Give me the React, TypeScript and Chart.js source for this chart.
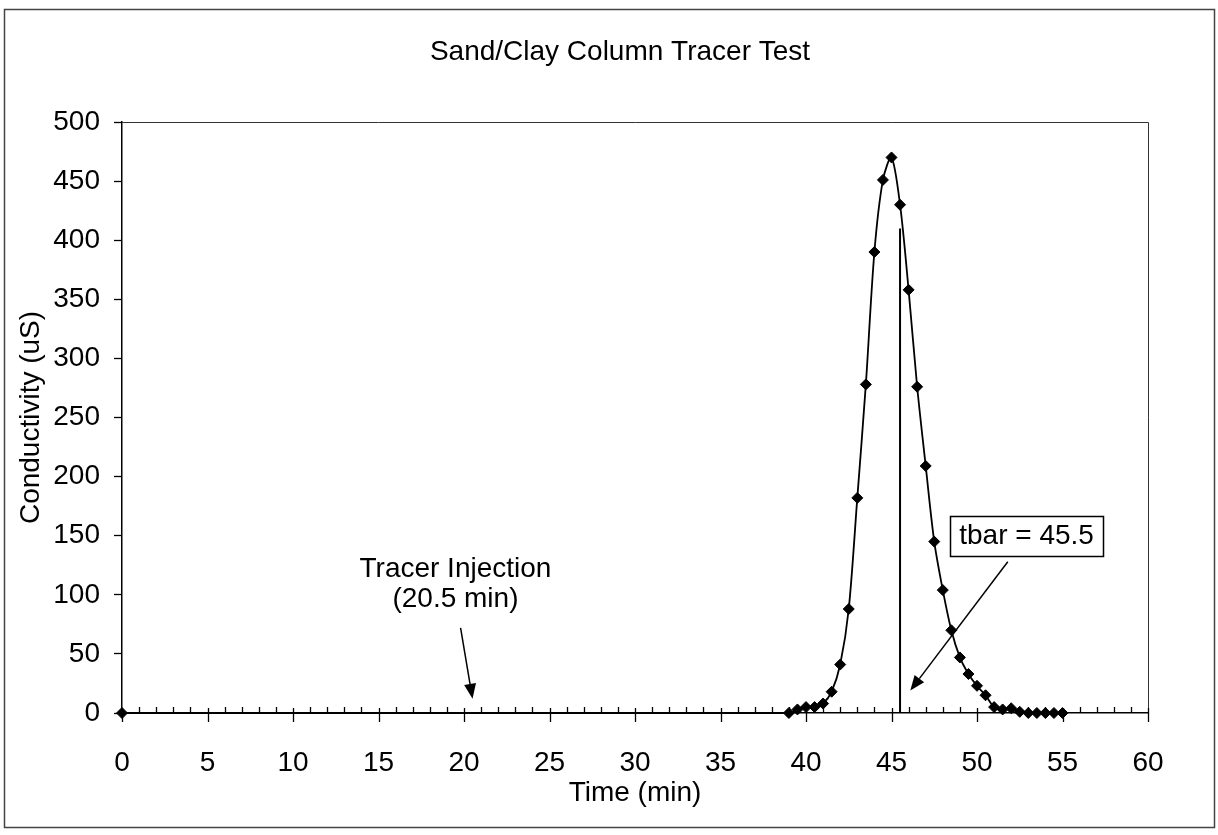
import React, { useEffect, useRef } from "react";
import { Chart, registerables } from "chart.js";

Chart.register(...registerables);

// ---- data ----
const timeMin = [
  0, 39, 39.5, 40, 40.5, 41, 41.5, 42, 42.5, 43, 43.5, 44, 44.5, 45, 45.5, 46,
  46.5, 47, 47.5, 48, 48.5, 49, 49.5, 50, 50.5, 51, 51.5, 52, 52.5, 53, 53.5,
  54, 54.5, 55,
];
const conductivity = [
  0, 0, 3, 5, 5, 8, 18, 41, 88, 182, 278, 390, 451, 470, 430, 358, 276, 209,
  145, 104, 70, 47, 33, 23, 15, 5, 3, 4, 1, 0, 0, 0, 0, 0,
];
const tbarTime = [45.5, 45.5];
const tbarValue = [0, 410];

const chartTitle = "Sand/Clay Column Tracer Test";
const xTitle = "Time (min)";
const yTitle = "Conductivity (uS)";
const injectionText = ["Tracer Injection", "(20.5 min)"];
const tbarText = "tbar = 45.5";

// annotation anchors in data units [time, conductivity]
const injectionTextAt = [19.5, 122];
const injectionTextAt2 = [19.5, 96];
const injectionArrowFrom = [19.8, 72];
const injectionArrowTo = [20.5, 12];
const tbarBoxAt = [52.9, 150];
const tbarArrowFrom = [51.8, 128];
const tbarArrowTo = [46.1, 19];

const FONT_FAMILY = '"Liberation Sans", Arial, Helvetica, sans-serif';

function drawArrow(ctx: CanvasRenderingContext2D, x1: number, y1: number, x2: number, y2: number) {
  const ang = Math.atan2(y2 - y1, x2 - x1);
  const headLen = 15;
  const headHalf = 6;
  const bx = x2 - headLen * Math.cos(ang);
  const by = y2 - headLen * Math.sin(ang);
  ctx.beginPath();
  ctx.moveTo(x1, y1);
  ctx.lineTo(bx, by);
  ctx.stroke();
  ctx.beginPath();
  ctx.moveTo(x2, y2);
  ctx.lineTo(bx + headHalf * Math.sin(ang), by - headHalf * Math.cos(ang));
  ctx.lineTo(bx - headHalf * Math.sin(ang), by + headHalf * Math.cos(ang));
  ctx.closePath();
  ctx.fill();
}

const decorPlugin = {
  id: "decor",
  afterDraw(chart: any) {
    const { ctx, chartArea: ca, scales } = chart;
    const xs = scales.x;
    const ys = scales.y;
    ctx.save();

    // plot area frame (top + right)
    ctx.strokeStyle = "#333";
    ctx.lineWidth = 1;
    ctx.beginPath();
    ctx.moveTo(ca.left, ca.top + 0.5);
    ctx.lineTo(ca.right + 0.5, ca.top + 0.5);
    ctx.lineTo(ca.right + 0.5, ca.bottom);
    ctx.stroke();

    // x axis ticks: major cross the axis, minor point inward
    const y0 = ys.getPixelForValue(0);
    ctx.strokeStyle = "#000";
    ctx.lineWidth = 1.3;
    for (let t = xs.min; t <= xs.max; t += 1) {
      const px = Math.round(xs.getPixelForValue(t)) + 0.5;
      ctx.beginPath();
      if (t % 5 === 0) {
        ctx.moveTo(px, y0 - 5);
        ctx.lineTo(px, y0 + 9);
      } else {
        ctx.moveTo(px, y0 - 6);
        ctx.lineTo(px, y0);
      }
      ctx.stroke();
    }

    // outer chart frame
    ctx.strokeStyle = "#444";
    ctx.lineWidth = 1.5;
    ctx.strokeRect(4.5, 9.5, 1210, 818);

    // title
    ctx.fillStyle = "#000";
    ctx.font = `28px ${FONT_FAMILY}`;
    ctx.textAlign = "center";
    ctx.textBaseline = "middle";
    ctx.fillText(chartTitle, 620, 52);

    // tracer injection annotation
    ctx.fillText(injectionText[0], xs.getPixelForValue(injectionTextAt[0]), ys.getPixelForValue(injectionTextAt[1]));
    ctx.fillText(injectionText[1], xs.getPixelForValue(injectionTextAt2[0]), ys.getPixelForValue(injectionTextAt2[1]));
    ctx.strokeStyle = "#000";
    ctx.lineWidth = 1.5;
    drawArrow(
      ctx,
      xs.getPixelForValue(injectionArrowFrom[0]),
      ys.getPixelForValue(injectionArrowFrom[1]),
      xs.getPixelForValue(injectionArrowTo[0]),
      ys.getPixelForValue(injectionArrowTo[1])
    );

    // tbar box
    const bx = xs.getPixelForValue(tbarBoxAt[0]);
    const by = ys.getPixelForValue(tbarBoxAt[1]);
    const tw = ctx.measureText(tbarText).width;
    const bw = tw + 18;
    const bh = 40;
    ctx.fillStyle = "#fff";
    ctx.fillRect(bx - bw / 2, by - bh / 2, bw, bh);
    ctx.strokeRect(Math.round(bx - bw / 2) + 0.5, Math.round(by - bh / 2) + 0.5, Math.round(bw), bh);
    ctx.fillStyle = "#000";
    ctx.fillText(tbarText, bx, by + 1);
    drawArrow(
      ctx,
      xs.getPixelForValue(tbarArrowFrom[0]),
      ys.getPixelForValue(tbarArrowFrom[1]),
      xs.getPixelForValue(tbarArrowTo[0]),
      ys.getPixelForValue(tbarArrowTo[1])
    );

    ctx.restore();
  },
};

export default function App() {
  const ref = useRef<HTMLCanvasElement | null>(null);

  useEffect(() => {
    if (!ref.current) return;
    const font = { family: FONT_FAMILY, size: 28 };
    const chart = new Chart(ref.current, {
      type: "scatter",
      data: {
        datasets: [
          {
            data: timeMin.map((t, i) => ({ x: t, y: conductivity[i] })),
            showLine: true,
            borderColor: "#000",
            borderWidth: 1.8,
            tension: 0.3,
            pointStyle: "rectRot",
            pointRadius: 5.5,
            pointBackgroundColor: "#000",
            pointBorderColor: "#000",
            pointBorderWidth: 1,
            clip: false,
          } as any,
          {
            data: tbarTime.map((t, i) => ({ x: t, y: tbarValue[i] })),
            showLine: true,
            borderColor: "#000",
            borderWidth: 2,
            tension: 0,
            pointRadius: 0,
            clip: false,
          } as any,
        ],
      },
      options: {
        responsive: false,
        animation: false,
        devicePixelRatio: 1,
        layout: { padding: { top: 122, right: 70, left: 0, bottom: 0 } },
        plugins: {
          legend: { display: false },
          title: { display: false },
          tooltip: { enabled: false },
        },
        scales: {
          x: {
            type: "linear",
            min: 0,
            max: 60,
            ticks: {
              stepSize: 5,
              color: "#000",
              font,
              padding: 33,
              autoSkip: false,
              maxRotation: 0,
            },
            grid: { display: true, drawOnChartArea: false, drawTicks: false },
            border: { display: true, color: "#000", width: 1.5 },
            title: {
              display: true,
              text: xTitle,
              color: "#000",
              font,
              padding: { top: 0, bottom: 25 },
            },
            afterFit: (s: any) => {
              s.height = 122;
            },
          },
          y: {
            type: "linear",
            min: 0,
            max: 500,
            ticks: { stepSize: 50, color: "#000", font, padding: 14 },
            grid: {
              display: true,
              drawOnChartArea: false,
              drawTicks: true,
              tickLength: 8,
              tickColor: "#000",
              tickWidth: 1.3,
            },
            border: { display: true, color: "#000", width: 1.5 },
            title: {
              display: true,
              text: yTitle,
              color: "#000",
              font,
              padding: { top: 14, bottom: 0 },
            },
            afterFit: (s: any) => {
              s.width = 122;
            },
          },
        },
      } as any,
      plugins: [decorPlugin],
    });
    return () => chart.destroy();
  }, []);

  return (
    <div style={{ position: "absolute", left: 0, top: 0, width: 1218, height: 835, background: "#fff" }}>
      <canvas ref={ref} width={1218} height={835} style={{ display: "block" }} />
    </div>
  );
}
